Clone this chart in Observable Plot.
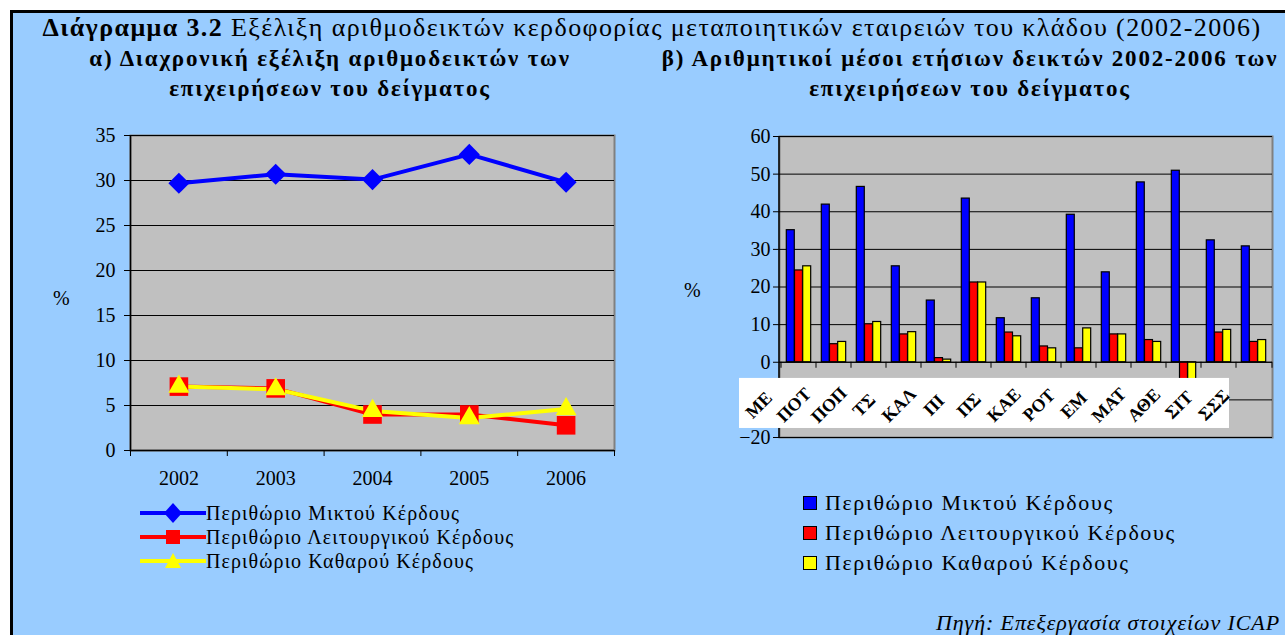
<!DOCTYPE html>
<html><head><meta charset="utf-8">
<script src="https://cdn.jsdelivr.net/npm/d3@7"></script>
<script src="https://cdn.jsdelivr.net/npm/@observablehq/plot@0.6"></script>
<style>
body{margin:0;background:#fff;}
#page{position:relative;width:1285px;height:635px;overflow:hidden;font-family:"Liberation Serif","Times New Roman",serif;color:#000;}
#panel{position:absolute;left:10px;top:10px;width:1290px;height:640px;background:#99CCFF;border-left:3px solid #000;border-top:3px solid #000;}
.abs{position:absolute;white-space:nowrap;}
#title{left:20px;width:1264px;top:13px;text-align:center;font-size:26px;line-height:30px;letter-spacing:1.4px;}
.sub{top:44px;text-align:center;font-size:23px;line-height:30px;font-weight:bold;letter-spacing:1.8px;}
#subA{left:-20px;width:700px;}
#subB{left:620px;width:700px;}
.pct{font-size:20px;line-height:20px;}
#legL{left:140px;top:501px;font-size:20px;letter-spacing:1.1px;}
#legL .row{height:24px;line-height:24px;display:flex;align-items:center;}
#legR{left:803px;top:488px;font-size:22px;letter-spacing:1.6px;}
#legR .row{height:30px;line-height:30px;display:flex;align-items:center;}
#legR .sw{width:12px;height:12px;border:1.5px solid #000;margin-right:8px;}
#caption{right:5px;top:610px;font-size:22px;font-style:italic;line-height:26px;letter-spacing:0.9px;}
</style></head><body>
<div id="page">
  <div id="panel"></div>
  <div id="title" class="abs"><b>Διάγραμμα 3.2</b> Εξέλιξη αριθμοδεικτών κερδοφορίας μεταποιητικών εταιρειών του κλάδου (2002-2006)</div>
  <div id="subA" class="abs sub">α) Διαχρονική εξέλιξη αριθμοδεικτών των<br>επιχειρήσεων του δείγματος</div>
  <div id="subB" class="abs sub">β) Αριθμητικοί μέσοι ετήσιων δεικτών 2002-2006 των<br>επιχειρήσεων του δείγματος</div>
  <div id="leftChart" class="abs" style="left:0;top:120px;"></div>
  <div id="rightChart" class="abs" style="left:660px;top:120px;"></div>
  <div class="abs pct" style="left:53px;top:288px;">%</div>
  <div class="abs pct" style="left:684px;top:280px;">%</div>
  <div id="legL" class="abs"></div>
  <div id="legR" class="abs"></div>
  <div id="caption" class="abs">Πηγή: Επεξεργασία στοιχείων ICAP</div>
</div>
<script>
// ---- data ----
const years = [2002, 2003, 2004, 2005, 2006];
const seriesNames = ["Περιθώριο Μικτού Κέρδους", "Περιθώριο Λειτουργικού Κέρδους", "Περιθώριο Καθαρού Κέρδους"];
const seriesColors = ["#0000FF", "#FF0000", "#FFFF00"];
const seriesSymbols = ["diamond2", "square", "triangle"];
const grossMargin = [29.7, 30.7, 30.1, 32.9, 29.8];
const operatingMargin = [7.1, 6.9, 4.0, 4.0, 2.8];
const netMargin = [7.1, 6.8, 4.4, 3.6, 4.6];
const leftYTicks = [0, 5, 10, 15, 20, 25, 30, 35];

const firms = ["ΜΕ", "ΠΟΤ", "ΠΟΠ", "ΤΣ", "ΚΑΛ", "ΠΙ", "ΠΣ", "ΚΑΕ", "ΡΟΤ", "ΕΜ", "ΜΑΤ", "ΑΘΕ", "ΣΙΤ", "ΣΣΣ"];
const firmGross = [35.1, 41.9, 46.6, 25.5, 16.4, 43.5, 11.7, 17.0, 39.2, 23.9, 47.8, 50.9, 32.4, 30.8];
const firmOperating = [24.4, 4.8, 10.1, 7.4, 1.1, 21.2, 7.9, 4.2, 3.7, 7.4, 5.9, -6.0, 7.9, 5.4];
const firmNet = [25.5, 5.4, 10.7, 8.0, 0.7, 21.2, 6.9, 3.7, 9.0, 7.4, 5.4, -5.0, 8.6, 5.9];
const rightYTicks = [-20, -10, 0, 10, 20, 30, 40, 50, 60];

const FONT = "Liberation Serif, Times New Roman, serif";

// ---- left chart: lines ----
const lineValues = [grossMargin, operatingMargin, netMargin];
const lineRows = lineValues.map((vals, k) => years.map((yr, i) => ({year: yr, value: vals[i], series: seriesNames[k]})));
const bounds = years.map(y => y - 0.5).concat([years[years.length - 1] + 0.5]);
const symbolR = [9.5, 10.5, 7.8];

const left = Plot.plot({
  width: 640, height: 380,
  marginLeft: 130, marginRight: 26, marginTop: 15, marginBottom: 50,
  style: {background: "transparent", fontFamily: FONT, fontSize: "20px", color: "#000", overflow: "visible"},
  x: {type: "linear", domain: [bounds[0], bounds[bounds.length - 1]]},
  y: {domain: [0, 35]},
  marks: [
    Plot.frame({fill: "#C0C0C0", stroke: "#808080", strokeWidth: 2}),
    Plot.gridY(leftYTicks, {stroke: "#000", strokeOpacity: 1, strokeWidth: 1}),
    Plot.ruleY([0], {stroke: "#000", strokeWidth: 1.5}),
    Plot.ruleX([bounds[0]], {stroke: "#000", strokeWidth: 1.5}),
    Plot.axisY(leftYTicks, {tickSize: 6, tickPadding: 9, label: null, fontSize: 20, fontFamily: FONT}),
    Plot.axisX(bounds, {tickSize: 6, tickFormat: () => "", label: null}),
    Plot.axisX(years, {tickSize: 0, tickPadding: 20, tickFormat: d => String(d), label: null, fontSize: 20, fontFamily: FONT}),
    ...lineRows.map((rows, k) => Plot.line(rows, {x: "year", y: "value", stroke: seriesColors[k], strokeWidth: 4})),
    ...lineRows.map((rows, k) => Plot.dot(rows, {x: "year", y: "value", fill: seriesColors[k], symbol: () => seriesSymbols[k], r: symbolR[k]}))
  ]
});
document.getElementById("leftChart").append(left);

// ---- right chart: grouped bars ----
const barValues = [firmGross, firmOperating, firmNet];
const W = 625, ML = 119, MR = 13;
const bandW = (W - ML - MR) / firms.length;
const barW = 8.2, groupPad = 5.3;
const barRows = barValues.map((vals, k) => firms.map((f, i) => ({firm: f, value: vals[i], series: seriesNames[k]})));

function decorations(index, scales, values, dims) {
  const g = d3.create("svg:g");
  const x = scales.x, y = scales.y;
  const y0 = y(0);
  const edges = firms.map(f => x(f)).concat([dims.width - dims.marginRight]);
  for (const ex of edges) {
    g.append("line").attr("x1", ex).attr("x2", ex).attr("y1", y0).attr("y2", y0 + 6).attr("stroke", "#000");
  }
  g.append("line").attr("x1", dims.marginLeft).attr("x2", dims.marginLeft)
    .attr("y1", y(60)).attr("y2", y(-20)).attr("stroke", "#000").attr("stroke-width", 1.5);
  return g.node();
}

const right = Plot.plot({
  width: W, height: 327,
  marginLeft: ML, marginRight: MR, marginTop: 16, marginBottom: 10,
  style: {background: "transparent", fontFamily: FONT, fontSize: "20px", color: "#000", overflow: "visible"},
  x: {type: "band", domain: firms, padding: 0, axis: null},
  y: {domain: [-20, 60]},
  marks: [
    Plot.frame({fill: "#C0C0C0", stroke: "#808080", strokeWidth: 2}),
    Plot.gridY(rightYTicks, {stroke: "#000", strokeOpacity: 1, strokeWidth: 1}),
    ...barRows.map((rows, k) => Plot.barY(rows, {
      x: "firm", y: "value", fill: seriesColors[k], stroke: "#000", strokeWidth: 1.2,
      insetLeft: groupPad + k * barW, insetRight: bandW - groupPad - (k + 1) * barW
    })),
    Plot.ruleY([0], {stroke: "#000"}),
    Plot.axisY(rightYTicks, {tickSize: 6, tickPadding: 3, label: null, fontSize: 20, fontFamily: FONT}),
    decorations,
    Plot.barY(firms, {x: d => d, y1: -4.3, y2: -17.6, fill: "#fff", dx: -42}),
    Plot.text(firms, {x: d => d, y: -11.4, text: d => d, rotate: -45, dx: -40, fontSize: 18, fontWeight: "bold", fontFamily: FONT, fill: "#000"})
  ]
});
document.getElementById("rightChart").append(right);

// ---- legends ----
const legL = document.getElementById("legL");
const legMarkers = [
  '<path d="M33,2 L42,12 L33,22 L24,12 Z" fill="#0000FF"/>',
  '<rect x="26" y="5" width="14" height="14" fill="#FF0000"/>',
  '<path d="M33,4 L41,19 L25,19 Z" fill="#FFFF00"/>'
];
seriesNames.forEach((name, k) => {
  const row = document.createElement("div");
  row.className = "row";
  row.innerHTML = `<svg width="66" height="24" style="flex:none"><line x1="0" x2="66" y1="12" y2="12" stroke="${seriesColors[k]}" stroke-width="4"/>${legMarkers[k]}</svg><span>${name}</span>`;
  legL.append(row);
});
const legR = document.getElementById("legR");
seriesNames.forEach((name, k) => {
  const row = document.createElement("div");
  row.className = "row";
  row.innerHTML = `<div class="sw" style="background:${seriesColors[k]}"></div><span>${name}</span>`;
  legR.append(row);
});
</script>
</body></html>
